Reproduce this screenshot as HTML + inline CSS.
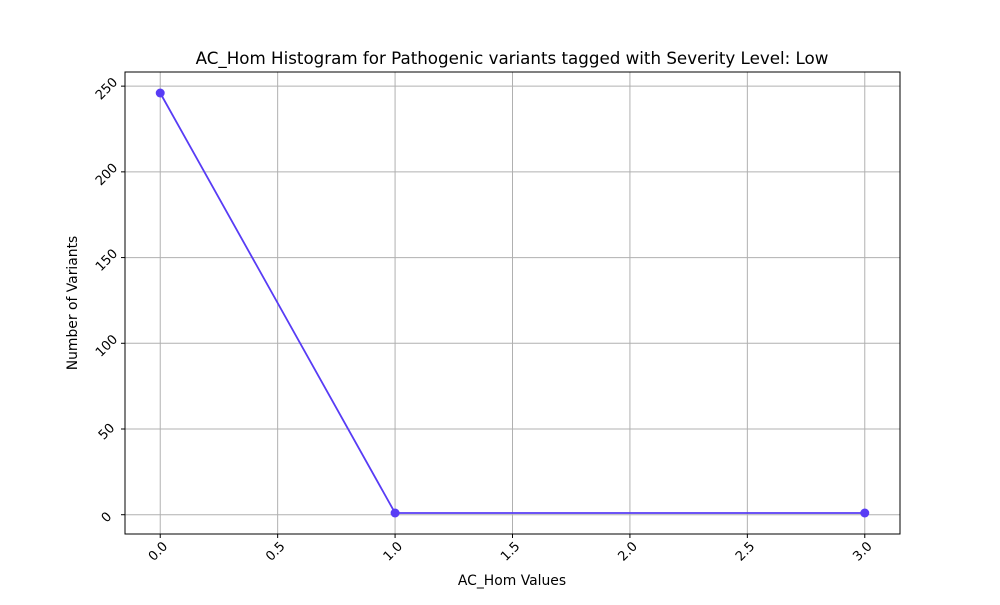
<!DOCTYPE html>
<html><head><meta charset="utf-8"><style>
body{margin:0;background:#fff;}
svg text{font-family:"DejaVu Sans","Liberation Sans",sans-serif;fill:#000;}
</style></head><body>
<svg id="chart" width="1000" height="600" xmlns="http://www.w3.org/2000/svg">
<rect width="1000" height="600" fill="#fff"/>
<text x="512" y="64" font-size="16.7" text-anchor="middle">AC_Hom Histogram for Pathogenic variants tagged with Severity Level: Low</text>
<text x="512" y="585" font-size="13.9" text-anchor="middle">AC_Hom Values</text>
<text transform="translate(77,303) rotate(-90)" font-size="13.9" text-anchor="middle">Number of Variants</text>
<g id="grid"></g><g id="ticks"></g><g id="series"></g>
<rect x="125" y="72" width="775" height="462" fill="none" stroke="#000" stroke-width="1"/>
</svg>
<script>
const xValues=[0,1,3];
const counts=[246,1,1];
const xTicks=[0,0.5,1,1.5,2,2.5,3];
const yTicks=[0,50,100,150,200,250];
const L=125,R=900,T=72,B=534,xmin=-0.15,xmax=3.15,ymin=-11.25,ymax=258.25;
const sx=v=>L+(v-xmin)/(xmax-xmin)*(R-L);
const sy=v=>B-(v-ymin)/(ymax-ymin)*(B-T);
const NS="http://www.w3.org/2000/svg";
const g=document.getElementById('grid'),tk=document.getElementById('ticks'),se=document.getElementById('series');
function mk(tag,attrs,parent){const e=document.createElementNS(NS,tag);for(const k in attrs)e.setAttribute(k,attrs[k]);parent.appendChild(e);return e;}
xTicks.forEach(v=>{const x=sx(v);
 const gl=mk('line',{x1:x,x2:x,y1:T,y2:B,stroke:'#b0b0b0','stroke-width':1},g);
 
 
 const tl=mk('line',{x1:x,x2:x,y1:B,y2:B+4,stroke:'#000'},tk);
 
 
 const t=mk('text',{transform:`translate(${x+8},${B+13}) rotate(-45)`,'font-size':13,'text-anchor':'end'},tk);
 t.textContent=v.toFixed(1);
 
 
});
yTicks.forEach(v=>{const y=sy(v);
 const gl=mk('line',{x1:L,x2:R,y1:y,y2:y,stroke:'#b0b0b0','stroke-width':1},g);
 
 
 const tl=mk('line',{x1:L-4,x2:L,y1:y,y2:y,stroke:'#000'},tk);
 
 
 const t=mk('text',{transform:`translate(${L-18},${y+3}) rotate(-45)`,'font-size':13,'text-anchor':'middle','dominant-baseline':'middle'},tk);
 t.textContent=v;
 
 
});
const pts=xValues.map((v,i)=>sx(v)+','+sy(counts[i])).join(' ');
const pl=mk('polyline',{points:pts,fill:'none',stroke:'#583cf5','stroke-width':1.8},se);


xValues.forEach((v,i)=>{
 const c=mk('circle',{cx:sx(v),cy:sy(counts[i]),r:4.5,fill:'#583cf5'},se);
 
 
});
</script>
</body></html>
